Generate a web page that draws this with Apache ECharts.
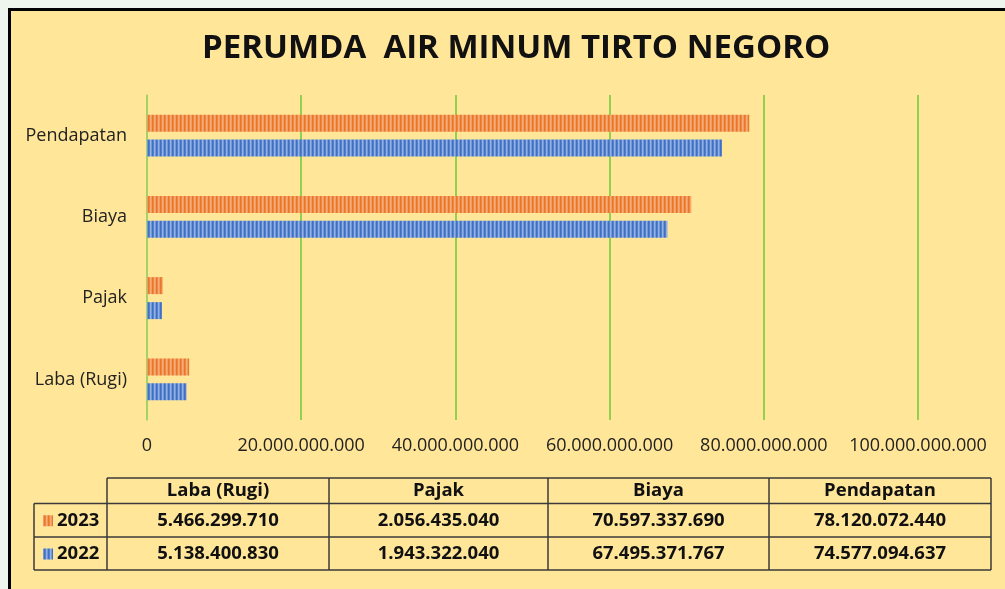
<!DOCTYPE html>
<html>
<head>
<meta charset="utf-8">
<script src="https://cdn.jsdelivr.net/npm/echarts@6/dist/echarts.min.js"></script>
<style>
    html, body { margin: 0; padding: 0; background: #EEF4EE; }
    #chart { width: 1005px; height: 589px; }
</style>
</head>
<body>
<div id="chart"></div>
<script>
    // data
    var categories = ['Laba (Rugi)', 'Pajak', 'Biaya', 'Pendapatan'];
    var years = ['2023', '2022'];
    var values2023 = [5466299710, 2056435040, 70597337690, 78120072440];
    var values2022 = [5138400830, 1943322040, 67495371767, 74577094637];
    var xMax = 100000000000;
    var xStep = 20000000000;

    function fmt(n) {
        return String(n).replace(/\B(?=(\d{3})+(?!\d))/g, '.');
    }

    // vertical stripe fill like the excel pattern
    function stripes(cols) {
        var c = document.createElement('canvas');
        c.width = cols.length;
        c.height = 4;
        var ctx = c.getContext('2d');
        for (var i = 0; i < cols.length; i++) {
            ctx.fillStyle = cols[i];
            ctx.fillRect(i, 0, 1, 4);
        }
        return { image: c, repeat: 'repeat' };
    }
    var orangeFill = stripes(['#EA7629', '#EE8640', '#F4AC79', '#F29C62']);
    var blueFill = stripes(['#416FC2', '#5481CD', '#95B1E2', '#7198D8']);

    // table below the plot
    var colX = [107, 329, 548, 769, 991];
    var rowY = [478, 503.5, 537, 570];
    var lineColor = '#3A3A3A';

    function tableGraphic() {
        var els = [];
        var line = function (x1, y1, x2, y2) {
            els.push({ type: 'line', shape: { x1: x1, y1: y1, x2: x2, y2: y2 },
                style: { stroke: lineColor, lineWidth: 1.5 }, silent: true });
        };
        line(colX[0], rowY[0], colX[4], rowY[0]);
        line(34, rowY[1], colX[4], rowY[1]);
        line(34, rowY[2], colX[4], rowY[2]);
        line(34, rowY[3], colX[4], rowY[3]);
        line(34, rowY[1], 34, rowY[3]);
        colX.forEach(function (x) { line(x, rowY[0], x, rowY[3]); });

        var txt = function (x, y, s, align) {
            els.push({ type: 'text', x: x, y: y, silent: true,
                style: { text: s, fill: '#111', font: 'bold 18.5px "Open Sans"',
                    align: align || 'center', verticalAlign: 'middle' } });
        };
        categories.forEach(function (c, i) {
            var cx = (colX[i] + colX[i + 1]) / 2;
            txt(cx, (rowY[0] + rowY[1]) / 2, c);
            txt(cx, (rowY[1] + rowY[2]) / 2, fmt(values2023[i]));
            txt(cx, (rowY[2] + rowY[3]) / 2, fmt(values2022[i]));
        });
        var fills = [orangeFill, blueFill];
        years.forEach(function (y, i) {
            var cy = (rowY[i + 1] + rowY[i + 2]) / 2;
            els.push({ type: 'rect', shape: { x: 43, y: cy - 5, width: 10, height: 11 },
                style: { fill: fills[i] }, silent: true });
            txt(57, cy, y, 'left');
        });
        return els;
    }

    var chart = echarts.init(document.getElementById('chart'));
    chart.setOption({
        backgroundColor: '#FFE699',
        animation: false,
        title: {
            text: 'PERUMDA  AIR MINUM TIRTO NEGORO',
            left: 197,
            top: 27,
            textStyle: { fontFamily: 'Open Sans', fontWeight: 'bold', fontSize: 33, color: '#111' }
        },
        grid: { left: 147, right: 87, top: 95, bottom: 169 },
        xAxis: {
            type: 'value',
            min: 0,
            max: xMax,
            interval: xStep,
            axisLine: { show: false },
            axisTick: { show: false },
            splitLine: { lineStyle: { color: '#92D050', width: 2 } },
            axisLabel: {
                margin: 17,
                fontFamily: 'Open Sans',
                fontSize: 18,
                color: '#222',
                formatter: function (v) { return fmt(v); }
            }
        },
        yAxis: {
            type: 'category',
            data: categories,
            axisLine: { lineStyle: { color: '#A9D46F', width: 1.5 } },
            axisTick: { show: false },
            axisLabel: { margin: 20, fontFamily: 'Open Sans', fontSize: 18, color: '#222' }
        },
        series: [
            {
                name: years[0],
                type: 'bar',
                data: values2023,
                barWidth: 17,
                barGap: '47%',
                itemStyle: { color: orangeFill }
            },
            {
                name: years[1],
                type: 'bar',
                data: values2022,
                barWidth: 17,
                barGap: '47%',
                itemStyle: { color: blueFill }
            }
        ],
        graphic: [
            { type: 'rect', shape: { x: 0, y: 0, width: 1005, height: 8 }, style: { fill: '#EEF4EE' }, silent: true },
            { type: 'rect', shape: { x: 0, y: 0, width: 8, height: 589 }, style: { fill: '#EEF4EE' }, silent: true },
            { type: 'line', shape: { x1: 8, y1: 9.5, x2: 1005, y2: 9.5 }, style: { stroke: '#000', lineWidth: 3 }, silent: true },
            { type: 'line', shape: { x1: 9.5, y1: 8, x2: 9.5, y2: 589 }, style: { stroke: '#000', lineWidth: 3 }, silent: true }
        ].concat(tableGraphic())
    });
</script>
</body>
</html>
